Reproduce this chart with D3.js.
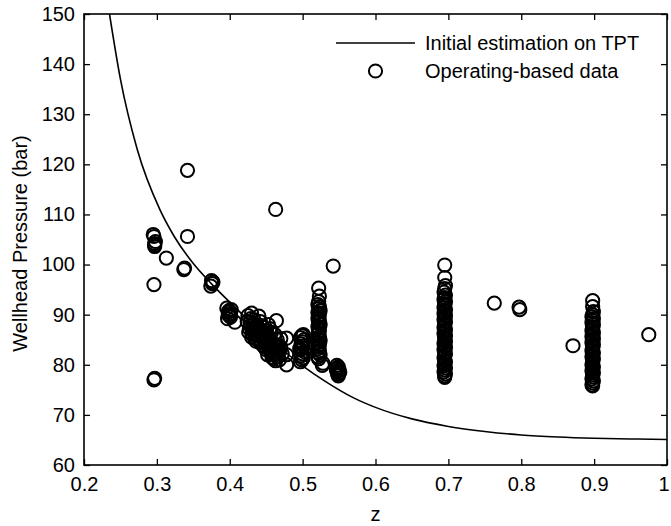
<!DOCTYPE html>
<html>
<head>
<meta charset="utf-8">
<script src="https://cdn.jsdelivr.net/npm/d3@7/dist/d3.min.js"></script>
<style>
  html, body { margin: 0; padding: 0; background: #fff; }
  svg { display: block; }
  text { font-family: "Liberation Sans", Arial, Helvetica, sans-serif; fill: #000; }
</style>
</head>
<body>
<svg id="chart" width="671" height="526"></svg>
<script>
// Model curve: initial estimation on TPT (z, wellhead pressure in bar)
const curveZ = [0.235, 0.25, 0.273, 0.304, 0.323, 0.35, 0.374, 0.40, 0.43, 0.45, 0.478, 0.50, 0.53, 0.57, 0.60, 0.65, 0.70, 0.75, 0.80, 0.85, 0.90, 0.95, 1.00];
const curveP = [150, 137, 123, 111, 105.8, 100.2, 96.3, 92.5, 88.3, 85.8, 82.3, 79.8, 76.8, 73.4, 71.5, 69.2, 67.7, 66.7, 66.0, 65.6, 65.35, 65.2, 65.1];

// Operating-based data, scattered points (z, bar)
const scatterZ = [
  0.295, 0.296, 0.297, 0.297, 0.298, 0.297, 0.296, 0.296, 0.297,
  0.313, 0.337, 0.338, 0.342, 0.342,
  0.375, 0.376, 0.374, 0.377,
  0.396, 0.398, 0.400, 0.397, 0.402, 0.401, 0.407, 0.399, 0.398, 0.401,
  0.463, 0.464, 0.478, 0.478, 0.478,
  0.527, 0.528, 0.542,
  0.763, 0.797, 0.798, 0.871, 0.975
];
const scatterP = [
  106, 105.6, 104.2, 103.6, 104.6, 103.9, 96, 77, 77.3,
  101.3, 99, 99.3, 118.8, 105.6,
  96.8, 96.2, 95.7, 96.5,
  91.3, 90.5, 89.8, 89.2, 91, 90.2, 88.5, 90.8, 90.0, 89.5,
  111, 88.8, 85.3, 82, 80,
  79.9, 80.3, 99.7,
  92.3, 91.5, 91, 83.8, 86
];

// Dense cluster between z = 0.42 and 0.47
const clusterZ = [
  0.425, 0.428, 0.430, 0.432, 0.426, 0.430, 0.435, 0.440, 0.437, 0.438, 0.442, 0.445, 0.447, 0.450,
  0.452, 0.455, 0.457, 0.460, 0.462, 0.465, 0.466, 0.468, 0.470, 0.453, 0.440, 0.448, 0.458, 0.463,
  0.428, 0.433, 0.436, 0.450, 0.442, 0.455, 0.470, 0.472, 0.427, 0.431, 0.434, 0.439, 0.444, 0.446,
  0.449, 0.451, 0.454, 0.456, 0.459, 0.461, 0.464, 0.467, 0.469, 0.424, 0.429, 0.441, 0.447, 0.457,
  0.432, 0.436, 0.439, 0.443, 0.446, 0.449, 0.452, 0.455, 0.458, 0.461, 0.464, 0.467, 0.434, 0.441,
  0.448, 0.453, 0.460, 0.466, 0.444, 0.451
];
const clusterP = [
  89.8, 88.5, 90.3, 87, 86.5, 85.5, 86, 89.7, 88, 85, 84.3, 87.5, 86, 83,
  82, 85, 83.8, 84.2, 86, 85, 82.5, 81, 83.5, 88, 86.5, 84.5, 81.5, 80.8,
  87.8, 89, 84.7, 86.8, 88.6, 87.2, 85.2, 82.2, 87.2, 86.2, 85.3, 87.2, 86.2, 85.2,
  84.2, 85.6, 83.2, 82.6, 82.4, 83, 82.2, 84, 82.8, 88.6, 89.2, 85.6, 83.6, 86.4,
  88.2, 87.4, 86.0, 86.8, 85.4, 85.8, 84.8, 83.8, 83.0, 82.0, 83.6, 83.0, 86.8, 85.0,
  83.6, 84.0, 81.2, 81.6, 87.8, 86.2
];

// Columns of repeated measurements at fixed z
const colA_Z = [0.497, 0.499, 0.501, 0.498, 0.500, 0.502, 0.497, 0.499, 0.501, 0.498, 0.500, 0.502, 0.497, 0.499, 0.501, 0.496];
const colA_P = [80.6, 81.0, 81.4, 81.8, 82.2, 82.6, 83.0, 83.4, 83.8, 84.2, 84.6, 85.0, 85.4, 85.8, 86.0, 83.2];

const colB_Z = [
  0.522, 0.523, 0.522, 0.521, 0.523, 0.522, 0.524, 0.521, 0.523, 0.522,
  0.521, 0.523, 0.522, 0.524, 0.521, 0.522, 0.523, 0.522, 0.521, 0.523,
  0.522, 0.524, 0.521, 0.523, 0.522, 0.521, 0.523, 0.522, 0.524, 0.521, 0.522
];
const colB_P = [
  95.3, 93.7, 92.6, 92.0, 91.6, 91.2, 90.8, 90.4, 90.0, 89.6,
  89.2, 88.8, 88.4, 88.0, 87.6, 87.2, 86.8, 86.4, 86.0, 85.6,
  85.2, 84.8, 84.4, 84.0, 83.6, 83.2, 82.8, 82.4, 82.0, 81.6, 81.2
];

const colC_Z = [0.547, 0.549, 0.548, 0.550, 0.547, 0.549, 0.548, 0.549, 0.546, 0.551];
const colC_P = [79.9, 79.6, 79.3, 79.0, 78.7, 78.4, 78.1, 77.8, 79.2, 78.5];

const colD_Z = [
  0.695, 0.695, 0.696, 0.695, 0.694, 0.696, 0.695, 0.694, 0.696, 0.695,
  0.695, 0.694, 0.696, 0.695, 0.694, 0.696, 0.695, 0.694, 0.696, 0.695,
  0.695, 0.694, 0.696, 0.695, 0.694, 0.696, 0.695, 0.695, 0.696, 0.694,
  0.695, 0.696, 0.694, 0.695, 0.696, 0.695, 0.694, 0.695, 0.696, 0.695,
  0.694, 0.696, 0.695, 0.694, 0.696, 0.695, 0.695
];
const colD_P = [
  99.9, 97.4, 95.8, 95.2, 94.5, 93.9, 93.4, 93.0, 92.6, 92.2,
  91.8, 91.4, 91.0, 90.6, 90.2, 89.8, 89.4, 89.0, 88.6, 88.2,
  87.8, 87.4, 87.0, 86.6, 86.2, 85.8, 85.4, 85.0, 84.6, 84.2,
  83.8, 83.4, 83.0, 82.6, 82.2, 81.8, 81.4, 81.0, 80.6, 80.2,
  79.8, 79.4, 79.0, 78.6, 78.2, 77.8, 77.5
];

const colE_Z = [
  0.898, 0.898, 0.899, 0.898, 0.897, 0.899, 0.898, 0.897, 0.899, 0.898,
  0.898, 0.897, 0.899, 0.898, 0.897, 0.899, 0.898, 0.897, 0.899, 0.898,
  0.898, 0.897, 0.899, 0.898, 0.897, 0.899, 0.898, 0.898, 0.897, 0.899,
  0.898, 0.897, 0.899, 0.898, 0.898, 0.897, 0.899, 0.898, 0.897, 0.898
];
const colE_P = [
  92.8, 91.6, 90.6, 90.0, 89.6, 89.2, 88.8, 88.4, 88.0, 87.6,
  87.2, 86.8, 86.4, 86.0, 85.6, 85.2, 84.8, 84.4, 84.0, 83.6,
  83.2, 82.8, 82.4, 82.0, 81.6, 81.2, 80.8, 80.4, 80.0, 79.6,
  79.2, 78.8, 78.4, 78.0, 77.6, 77.2, 76.8, 76.4, 76.0, 75.8
];

const xTicks = [0.2, 0.3, 0.4, 0.5, 0.6, 0.7, 0.8, 0.9, 1];
const yTicks = [60, 70, 80, 90, 100, 110, 120, 130, 140, 150];
const legendLabels = ["Initial estimation on TPT", "Operating-based data"];

const groupsZ = [scatterZ, clusterZ, colA_Z, colB_Z, colC_Z, colD_Z, colE_Z];
const groupsP = [scatterP, clusterP, colA_P, colB_P, colC_P, colD_P, colE_P];
const pts = groupsZ.flatMap((zs, g) => zs.map((z, i) => [z, groupsP[g][i]]));

const svg = d3.select("#chart");
const margin = { left: 84, right: 4, top: 14, bottom: 61 };
const W = 671, H = 526;
const x = d3.scaleLinear().domain([0.2, 1]).range([margin.left, W - margin.right]);
const y = d3.scaleLinear().domain([60, 150]).range([H - margin.bottom, margin.top]);

const clipId = "plot-clip";
svg.append("clipPath").attr("id", clipId)
  .append("rect")
  .attr("x", x(0.2)).attr("y", y(150))
  .attr("width", x(1) - x(0.2)).attr("height", y(60) - y(150));

const plot = svg.append("g").attr("clip-path", `url(#${clipId})`);

// model curve
const curvePts = curveZ.map((z, i) => [z, curveP[i]]);
plot.append("path")
  .datum(curvePts)
  .attr("fill", "none")
  .attr("stroke", "#000")
  .attr("stroke-width", 1.6)
  .attr("d", d3.line().x(d => x(d[0])).y(d => y(d[1])).curve(d3.curveMonotoneX));

// data markers
const markerR = 6.6;
plot.append("g").selectAll("circle")
  .data(pts)
  .join("circle")
  .attr("cx", d => x(d[0]))
  .attr("cy", d => y(d[1]))
  .attr("r", markerR)
  .attr("fill", "none")
  .attr("stroke", "#000")
  .attr("stroke-width", 2);

// axes with inward ticks on all four sides
const tickLen = 6;
const fontSize = 20;
const axisBottom = d3.axisBottom(x).tickValues(xTicks).tickSizeInner(-tickLen).tickSizeOuter(0)
  .tickPadding(tickLen + 6).tickFormat(d3.format(""));
const axisLeft = d3.axisLeft(y).tickValues(yTicks).tickSizeInner(-tickLen).tickSizeOuter(0)
  .tickPadding(tickLen + 3).tickFormat(d3.format(""));
const axisTop = d3.axisTop(x).tickValues(xTicks).tickSizeInner(-tickLen).tickSizeOuter(0).tickFormat("");
const axisRight = d3.axisRight(y).tickValues(yTicks).tickSizeInner(-tickLen).tickSizeOuter(0).tickFormat("");

function styleAxis(g) {
  g.select(".domain").remove();
  g.selectAll(".tick line").attr("stroke", "#000").attr("stroke-width", 1.3);
  g.selectAll(".tick text")
    .attr("font-size", fontSize)
    .attr("font-family", "'Liberation Sans', Arial, sans-serif")
    .attr("fill", "#000");
}

const gx = svg.append("g").attr("transform", `translate(0,${y(60)})`).call(axisBottom).call(styleAxis);
// keep the last x label inside the page edge
gx.selectAll(".tick text").filter(d => d === 1).attr("text-anchor", "end").attr("dx", "0.1em");
svg.append("g").attr("transform", `translate(${x(0.2)},0)`).call(axisLeft).call(styleAxis);
svg.append("g").attr("transform", `translate(0,${y(150)})`).call(axisTop).call(styleAxis);
svg.append("g").attr("transform", `translate(${x(1)},0)`).call(axisRight).call(styleAxis);

// frame
svg.append("rect")
  .attr("x", x(0.2)).attr("y", y(150))
  .attr("width", x(1) - x(0.2)).attr("height", y(60) - y(150))
  .attr("fill", "none").attr("stroke", "#000").attr("stroke-width", 1.6);

// axis titles
svg.append("text")
  .attr("x", (x(0.2) + x(1)) / 2)
  .attr("y", 521)
  .attr("text-anchor", "middle")
  .attr("font-size", fontSize)
  .text("z");

svg.append("text")
  .attr("transform", `translate(27,${(y(60) + y(150)) / 2 + 4}) rotate(-90)`)
  .attr("text-anchor", "middle")
  .attr("font-size", fontSize)
  .text("Wellhead Pressure (bar)");

// legend
const leg = svg.append("g");
const legLineX0 = 336, legLineX1 = 415, legTextX = 425;
const legRowY = [43, 71];
leg.append("line")
  .attr("x1", legLineX0).attr("x2", legLineX1)
  .attr("y1", legRowY[0]).attr("y2", legRowY[0])
  .attr("stroke", "#000").attr("stroke-width", 1.6);
leg.append("circle")
  .attr("cx", (legLineX0 + legLineX1) / 2).attr("cy", legRowY[1])
  .attr("r", markerR).attr("fill", "none").attr("stroke", "#000").attr("stroke-width", 2);
leg.selectAll("text.lbl")
  .data(legendLabels)
  .join("text")
  .attr("class", "lbl")
  .attr("x", legTextX)
  .attr("y", (d, i) => legRowY[i])
  .attr("dy", "0.35em")
  .attr("font-size", fontSize)
  .text(d => d);
</script>
</body>
</html>
